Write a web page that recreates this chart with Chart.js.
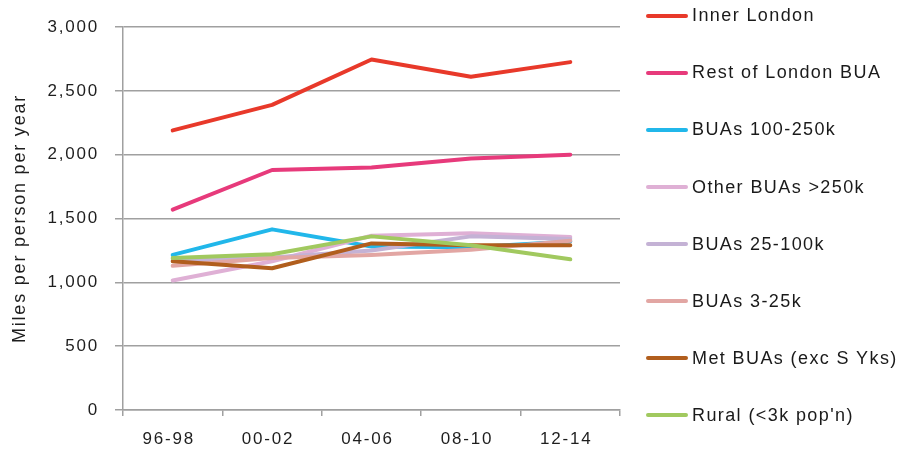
<!DOCTYPE html>
<html>
<head>
<meta charset="utf-8">
<title>Miles per person per year</title>
<script src="https://cdn.jsdelivr.net/npm/chart.js@4/dist/chart.umd.min.js"></script>
<style>
    body { margin: 0; background: #ffffff; }
    #wrap { position: relative; width: 905px; height: 452px; }
    #chart { position: absolute; left: 0; top: 0; }
    #legend { position: absolute; left: 0; top: 0; width: 905px; height: 452px; pointer-events: none; }
    .item { position: absolute; left: 646px; height: 20px; display: flex; align-items: center; }
    .swatch { width: 42px; height: 4px; border-radius: 2px; margin-right: 4px; }
    .label { font-family: "Liberation Sans", Arial, sans-serif; font-size: 18px; letter-spacing: 1.4px; color: #1a1a1a; white-space: nowrap; }
</style>
</head>
<body>
<div id="wrap">
    <canvas id="chart" width="630" height="452"></canvas>
    <div id="legend"></div>
</div>
<script>
// Periode (rata-rata 3 tahun)
const periods = ['96-98', '00-02', '04-06', '08-10', '12-14'];

// Nilai tiap kategori wilayah (mil per orang per tahun)
const innerLondon = [2190, 2390, 2745, 2610, 2725];
const restOfLondon = [1570, 1880, 1900, 1970, 2000];
const bua100to250k = [1215, 1415, 1280, 1275, 1320];
const otherBua250k = [1015, 1165, 1365, 1385, 1355];
const bua25to100k = [1170, 1195, 1250, 1360, 1340];
const bua3to25k = [1130, 1190, 1215, 1255, 1325];
const metBua = [1165, 1110, 1305, 1290, 1290];
const rural = [1190, 1220, 1360, 1290, 1180];

// Tick sumbu Y
const yTicks = [0, 500, 1000, 1500, 2000, 2500, 3000];

const seriesNames = ['Inner London', 'Rest of London BUA', 'BUAs 100-250k', 'Other BUAs >250k',
    'BUAs 25-100k', 'BUAs 3-25k', 'Met BUAs (exc S Yks)', "Rural (<3k pop'n)"];
const seriesData = [innerLondon, restOfLondon, bua100to250k, otherBua250k,
    bua25to100k, bua3to25k, metBua, rural];
const seriesColors = ['#e8392a', '#e73a7b', '#21b7ea', '#dfb0d5', '#c4b2d5', '#e2a6a3', '#b15e1d', '#a1c95f'];

const axisGray = '#a0a0a0';
const textColor = '#1e1e1e';

// Jarak antar huruf pada canvas (font terlihat agak renggang)
const letterSpacingPlugin = {
    id: 'letterSpacing',
    beforeUpdate(chart) { chart.ctx.letterSpacing = '1.8px'; },
    beforeDraw(chart) { chart.ctx.letterSpacing = '1.8px'; }
};

function buildDatasets() {
    return seriesNames.map((name, i) => ({
        label: name,
        data: seriesData[i],
        borderColor: seriesColors[i],
        backgroundColor: seriesColors[i],
        borderWidth: 4,
        borderCapStyle: 'round',
        borderJoinStyle: 'round',
        pointRadius: 0,
        tension: 0,
        fill: false,
        order: -i // seri terakhir digambar paling atas
    }));
}

// Legend dibuat manual di sisi kanan
function buildLegend() {
    const legend = document.getElementById('legend');
    legend.innerHTML = '';
    seriesNames.forEach((name, i) => {
        const item = document.createElement('div');
        item.className = 'item';
        item.style.top = (15.7 + i * 57.1 - 10) + 'px';

        const swatch = document.createElement('div');
        swatch.className = 'swatch';
        swatch.style.background = seriesColors[i];
        item.appendChild(swatch);

        const label = document.createElement('span');
        label.className = 'label';
        label.textContent = name;
        item.appendChild(label);

        legend.appendChild(item);
    });
}

function main() {
    const ctx = document.getElementById('chart').getContext('2d');
    new Chart(ctx, {
        type: 'line',
        data: { labels: periods, datasets: buildDatasets() },
        plugins: [letterSpacingPlugin],
        options: {
            responsive: false,
            animation: false,
            layout: { padding: { top: 27, right: 10, left: 0, bottom: 0 } },
            plugins: {
                legend: { display: false },
                tooltip: { enabled: false }
            },
            scales: {
                x: {
                    offset: true,
                    grid: {
                        offset: true,
                        drawOnChartArea: false,
                        drawTicks: true,
                        tickLength: 6,
                        color: axisGray,
                        lineWidth: 1.5
                    },
                    border: { display: true, color: axisGray, width: 1.5 },
                    ticks: {
                        color: textColor,
                        padding: 13,
                        labelOffset: -4,
                        maxRotation: 0,
                        font: { family: '"Liberation Sans", Arial, sans-serif', size: 17 }
                    },
                    afterFit(scale) { scale.height = 42; }
                },
                y: {
                    min: 0,
                    max: 3000,
                    afterBuildTicks(scale) { scale.ticks = yTicks.map(v => ({ value: v })); },
                    grid: {
                        color: axisGray,
                        lineWidth: 1.5,
                        tickLength: 8
                    },
                    border: { display: true, color: axisGray, width: 1.5 },
                    ticks: {
                        color: textColor,
                        padding: 16,
                        font: { family: '"Liberation Sans", Arial, sans-serif', size: 17 },
                        callback: v => v.toLocaleString('en-US')
                    },
                    title: {
                        display: true,
                        text: 'Miles per person per year',
                        color: textColor,
                        padding: { top: 9, bottom: 0 },
                        font: { family: '"Liberation Sans", Arial, sans-serif', size: 18 }
                    },
                    afterFit(scale) { scale.width = 123; }
                }
            }
        }
    });
    buildLegend();
}

window.onload = main;
</script>
</body>
</html>
